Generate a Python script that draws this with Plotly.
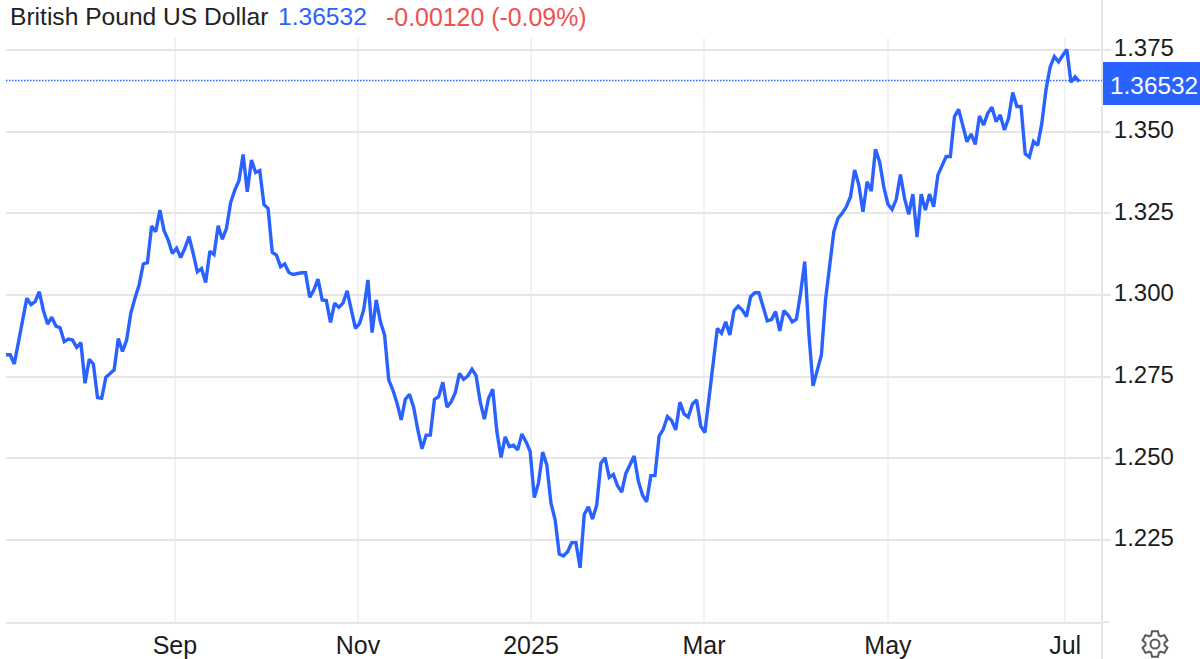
import math
import plotly.graph_objects as go

# Daily closes, oldest first
closes = [
1.2817,1.2817,1.2789,1.2852,1.2924,1.2990,1.2971,1.2980,1.3010,1.2952,
1.2911,1.2932,1.2905,1.2900,1.2857,1.2865,1.2862,1.2840,1.2854,1.2730,
1.2803,1.2789,1.2686,1.2684,1.2748,1.2760,1.2771,1.2867,1.2827,1.2862,
1.2944,1.2990,1.3031,1.3095,1.3099,1.3211,1.3194,1.3260,1.3197,1.3168,
1.3127,1.3143,1.3115,1.3143,1.3179,1.3127,1.3071,1.3081,1.3038,1.3134,
1.3124,1.3212,1.3171,1.3204,1.3283,1.3321,1.3350,1.3430,1.3316,1.3413,
1.3375,1.3381,1.3277,1.3265,1.3131,1.3122,1.3087,1.3095,1.3069,1.3063,
1.3066,1.3068,1.3068,1.2993,1.3015,1.3049,1.2985,1.2983,1.2916,1.2975,
1.2962,1.2975,1.3013,1.2956,1.2898,1.2913,1.2956,1.3046,1.2885,1.2985,
1.2918,1.2878,1.2740,1.2709,1.2669,1.2618,1.2681,1.2696,1.2656,1.2587,
1.2529,1.2571,1.2571,1.2681,1.2689,1.2733,1.2657,1.2673,1.2701,1.2760,
1.2742,1.2752,1.2773,1.2753,1.2673,1.2620,1.2684,1.2712,1.2582,1.2503,
1.2566,1.2536,1.2540,1.2526,1.2574,1.2551,1.2521,1.2380,1.2424,1.2519,
1.2480,1.2363,1.2312,1.2207,1.2201,1.2214,1.2242,1.2242,1.2165,1.2328,
1.2352,1.2314,1.2357,1.2485,1.2502,1.2442,1.2451,1.2416,1.2397,1.2454,
1.2480,1.2507,1.2431,1.2388,1.2367,1.2447,1.2447,1.2568,1.2589,1.2628,
1.2616,1.2587,1.2672,1.2636,1.2626,1.2666,1.2679,1.2599,1.2579,1.2689,
1.2806,1.2898,1.2883,1.2918,1.2878,1.2952,1.2966,1.2954,1.2934,1.2995,
1.3007,1.3007,1.2964,1.2921,1.2925,1.2949,1.2890,1.2952,1.2939,1.2918,
1.2926,1.3005,1.3102,1.2882,1.2722,1.2765,1.2816,1.2985,1.3087,1.3194,
1.3235,1.3250,1.3270,1.3301,1.3383,1.3337,1.3255,1.3347,1.3318,1.3446,
1.3408,1.3332,1.3278,1.3262,1.3293,1.3369,1.3296,1.3247,1.3309,1.3177,
1.3309,1.3260,1.3309,1.3270,1.3367,1.3398,1.3424,1.3424,1.3546,1.3568,
1.3515,1.3469,1.3493,1.3461,1.3548,1.3520,1.3556,1.3575,1.3531,1.3551,
1.3505,1.3541,1.3620,1.3577,1.3577,1.3432,1.3422,1.3470,1.3458,1.3526,
1.3628,1.3698,1.3730,1.3714,1.3733,1.3752,1.3651,1.3668,1.36532,
]
y_ticks = [1.225, 1.250, 1.275, 1.300, 1.325, 1.350, 1.375]
y_tick_text = ["1.225", "1.250", "1.275", "1.300", "1.325", "1.350", "1.375"]
month_labels = ["Sep", "Nov", "2025", "Mar", "May", "Jul"]
month_positions = [40.6, 84.6, 126.2, 167.8, 212.0, 254.6]

title_name = "British Pound US Dollar"
last_text = "1.36532"
change_text = "-0.00120 (-0.09%)"

W, H = 1200, 659
L, R, T, B = 6, 1102, 38, 622
BLUE = "#2962ff"
FONT = "Liberation Sans, Arial, sans-serif"


def px(x):
    return (x - L) / (R - L)


def py(y):
    return (B - y) / (B - T)


trading_day = list(range(len(closes)))

fig = go.Figure(go.Scatter(
    x=trading_day, y=closes, mode="lines",
    line=dict(color=BLUE, width=3.4), hoverinfo="skip", showlegend=False,
))

shapes = [
    # right-hand scale border, full page height
    dict(type="line", xref="paper", yref="paper", x0=1, x1=1, y0=py(H), y1=py(0),
         line=dict(color="#e6e6e6", width=2), layer="below"),
    # small tick at the end of the bottom axis
    dict(type="line", xref="paper", yref="paper", x0=1, x1=px(1109), y0=0, y1=0,
         line=dict(color="#e6e6e6", width=2), layer="below"),
    # last-value dotted line
    dict(type="line", xref="paper", yref="paper", x0=0, x1=1, y0=py(80.6), y1=py(80.6),
         line=dict(color=BLUE, width=1.5, dash="1.5px,1.5px")),
    # last-value badge
    dict(type="rect", xref="paper", yref="paper", x0=px(1103), x1=px(1200),
         y0=py(105), y1=py(62), fillcolor=BLUE, line=dict(width=0)),
]

# settings gear icon
cx, cy, r_out, r_in = 1155, 644, 13, 9.5
pts = []
for k in range(6):
    a = math.radians(60 * k - 90)
    for da, r in ((-24, r_in), (-13, r_out), (13, r_out), (24, r_in)):
        t = a + math.radians(da)
        pts.append((cx + r * math.cos(t), cy + r * math.sin(t)))
gear = "M " + " L ".join(f"{px(x):.5f},{py(y):.5f}" for x, y in pts) + " Z"
shapes.append(dict(type="path", xref="paper", yref="paper", path=gear,
                   line=dict(color="#5a5a5a", width=2)))
shapes.append(dict(type="circle", xref="paper", yref="paper",
                   x0=px(cx - 4.5), x1=px(cx + 4.5), y0=py(cy + 4.5), y1=py(cy - 4.5),
                   line=dict(color="#5a5a5a", width=2)))


def note(x, y, text, color, anchor="left", size=24.6):
    return dict(xref="paper", yref="paper", x=px(x), y=py(y), text=text, showarrow=False,
                xanchor=anchor, yanchor="middle", font=dict(family=FONT, size=size, color=color))


annotations = [
    note(8, 17, title_name, "#222222"),
    note(276, 17, last_text, BLUE),
    note(384, 17, change_text, "#f05050", size=24.9),
    note(1154, 85, last_text, "#ffffff", "center", size=24.4),
]

fig.update_layout(
    width=W, height=H, autosize=False,
    margin=dict(l=L, r=W - R, t=T, b=H - B, pad=0),
    paper_bgcolor="white", plot_bgcolor="white",
    shapes=shapes, annotations=annotations,
    font=dict(family=FONT, size=24, color="#222222"),
    xaxis=dict(
        range=[0, (R - L) / 4.16], tickmode="array", automargin=False,
        tickvals=month_positions, ticktext=month_labels,
        showgrid=True, gridcolor="#eef2f6", gridwidth=2,
        showline=True, linecolor="#e6e6e6", linewidth=2,
        ticks="", ticklabelstandoff=0, zeroline=False,
        tickfont=dict(family=FONT, size=25, color="#1c1c1c"),
    ),
    yaxis=dict(
        range=[1.19991, 1.37867], side="right", tickmode="array", automargin=False,
        tickvals=y_ticks, ticktext=y_tick_text,
        showgrid=True, gridcolor="#e6e6e6", gridwidth=2,
        ticks="outside", ticklen=8, tickwidth=2, tickcolor="#e6e6e6",
        ticklabelstandoff=-2, ticklabelshift=-2, zeroline=False, showline=False,
        tickfont=dict(family=FONT, size=24, color="#1c1c1c"),
    ),
)

fig.write_html("out.html", config=dict(displayModeBar=False),
               post_script="document.body.style.margin='0';")
